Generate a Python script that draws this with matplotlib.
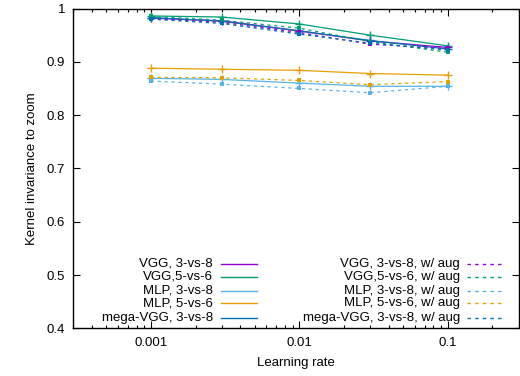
import matplotlib
matplotlib.use("Agg")
import matplotlib.pyplot as plt
from matplotlib.lines import Line2D

plt.rcParams['font.family'] = ['Liberation Sans', 'DejaVu Sans']

learning_rates = [0.001, 0.003, 0.01, 0.03, 0.1]

vgg_38 = [0.982, 0.977, 0.958, 0.939, 0.927]
vgg_56 = [0.986, 0.984, 0.971, 0.950, 0.930]
mlp_38 = [0.869, 0.867, 0.860, 0.854, 0.854]
mlp_56 = [0.888, 0.886, 0.884, 0.878, 0.875]
mega_38 = [0.983, 0.976, 0.958, 0.940, 0.924]

vgg_38_aug = [0.981, 0.974, 0.955, 0.933, 0.925]
vgg_56_aug = [0.985, 0.978, 0.963, 0.938, 0.918]
mlp_38_aug = [0.864, 0.858, 0.850, 0.842, 0.854]
mlp_56_aug = [0.871, 0.870, 0.865, 0.857, 0.863]
mega_38_aug = [0.980, 0.972, 0.952, 0.935, 0.922]

labels_plain = ["VGG, 3-vs-8", "VGG,5-vs-6", "MLP, 3-vs-8", "MLP, 5-vs-6", "mega-VGG, 3-vs-8"]
labels_aug = ["VGG, 3-vs-8, w/ aug", "VGG,5-vs-6, w/ aug", "MLP, 3-vs-8, w/ aug",
              "MLP, 5-vs-6, w/ aug", "mega-VGG, 3-vs-8, w/ aug"]
colors = ["#9400d3", "#009e73", "#56b4e9", "#e69f00", "#0072b2"]

plain = [vgg_38, vgg_56, mlp_38, mlp_56, mega_38]
aug = [vgg_38_aug, vgg_56_aug, mlp_38_aug, mlp_56_aug, mega_38_aug]

fig = plt.figure(figsize=(5.2, 3.76), dpi=100)
ax = fig.add_axes([73.3 / 520, 1 - 328.3 / 376, (518.5 - 73.3) / 520, (328.3 - 8.5) / 376])

for ys, c in zip(plain, colors):
    ax.plot(learning_rates, ys, color=c, lw=0.9, marker='+', ms=6, mew=1.0)
for ys, c in zip(aug, colors):
    ax.plot(learning_rates, ys, color=c, lw=0.9, ls=(0, (2.5, 3)), marker='s', ms=3.5, mew=0)

ax.set_xscale('log')
ax.set_xlim(0.0003, 0.3)
ax.set_ylim(0.4, 1.0)
ax.set_xticks([0.001, 0.01, 0.1])
ax.set_xticklabels(["0.001", "0.01", "0.1"])
ax.set_yticks([0.4, 0.5, 0.6, 0.7, 0.8, 0.9, 1.0])
ax.set_yticklabels(["0.4", "0.5", "0.6", "0.7", "0.8", "0.9", "1"])
ax.tick_params(which='both', direction='in', top=True, right=True, labelsize=9.5, width=0.8)
ax.tick_params(which='major', length=5, pad=6)
ax.tick_params(which='minor', length=2.5)
for s in ax.spines.values():
    s.set_linewidth(1.0)

ax.set_xlabel("Learning rate", fontsize=9.5, labelpad=6)
ax.set_ylabel("Kernel invariance to zoom", fontsize=9.5, labelpad=6)

# two-column key with text on the left of each sample line
W, H = 518.5 - 73.3, 328.3 - 8.5
def fx(px):
    return (px - 73.3) / W
def fy(py):
    return (328.3 - py) / H

rows = [264.0, 276.7, 290.7, 303.3, 317.7]
for i, (lab, c) in enumerate(zip(labels_plain, colors)):
    y = fy(rows[i])
    ax.text(fx(213), y, lab, transform=ax.transAxes, ha='right', va='center', fontsize=9.5)
    ax.add_line(Line2D([fx(221), fx(257)], [y, y], transform=ax.transAxes, color=c, lw=1.0))
for i, (lab, c) in enumerate(zip(labels_aug, colors)):
    y = fy(rows[i])
    ax.text(fx(460), y, lab, transform=ax.transAxes, ha='right', va='center', fontsize=9.5)
    ax.add_line(Line2D([fx(467), fx(501)], [y, y], transform=ax.transAxes, color=c, lw=1.0,
                       ls=(0, (2.5, 3))))

fig.savefig("out.png", dpi=100)
